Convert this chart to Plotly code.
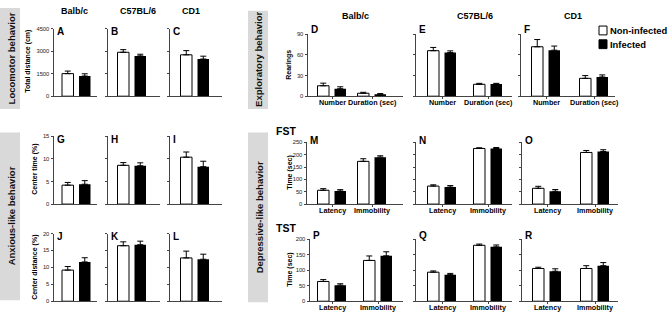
import plotly.graph_objects as go

W, H = 668, 316
FONT = "Liberation Sans"

# ---------------- data ----------------
strains = ["Balb/c", "C57BL/6", "CD1"]
single_cat = ["group"]
explor_cats = ["Number", "Duration (sec)"]
depr_cats = ["Latency", "Immobility"]

# Locomotor: total distance (cm), panels A-C (mean, SEM)
dist_non_mean = [1500, 2920, 2750]
dist_non_sem = [170, 175, 280]
dist_inf_mean = [1340, 2680, 2470]
dist_inf_sem = [150, 110, 190]

# Anxious-like: center time (%), panels G-I
ctime_non_mean = [4.2, 8.6, 10.4]
ctime_non_sem = [0.6, 0.6, 1.15]
ctime_inf_mean = [4.4, 8.5, 8.3]
ctime_inf_sem = [0.8, 0.65, 1.2]

# Anxious-like: center distance (%), panels J-L
cdist_non_mean = [9.2, 16.4, 12.8]
cdist_non_sem = [1.05, 1.15, 2.0]
cdist_inf_mean = [11.6, 16.7, 12.4]
cdist_inf_sem = [1.25, 1.05, 1.5]

# Exploratory: rearings [Number, Duration], panels D-F
rear_non_mean = [[15.2, 4.3], [66.3, 17.3], [72, 26]]
rear_non_sem = [[3.8, 1.4], [4.7, 1.4], [10.5, 4]]
rear_inf_mean = [[10.9, 2.8], [63.5, 17.7], [67, 28]]
rear_inf_sem = [[2.8, 1.0], [2.5, 1.0], [6, 3]]

# FST time (sec) [Latency, Immobility], panels M-O
fst_non_mean = [[56, 173], [73, 225], [64, 209]]
fst_non_sem = [[6.5, 10.5], [5, 3], [8, 8]]
fst_inf_mean = [[53, 190], [69, 225], [52, 213]]
fst_inf_sem = [[5.5, 5.5], [6, 4], [7, 7]]

# TST time (sec) [Latency, Immobility], panels P-R
tst_non_mean = [[64, 132], [94, 181], [106, 106]]
tst_non_sem = [[6, 14.5], [4, 4], [4, 9]]
tst_inf_mean = [[52, 147], [86, 176], [97, 115]]
tst_inf_sem = [[4.5, 13], [4, 6], [8, 10]]

# axis ticks
dist_ticks = [0, 1500, 3000, 4500]
ctime_ticks = [0, 5, 10, 15]
cdist_ticks = [0, 5, 10, 15, 20]
rear_ticks = [0, 30, 60, 90]
fst_ticks = [0, 50, 100, 150, 200, 250]
tst_ticks = [0, 50, 100, 150, 200]

# ---------------- layout geometry (pixels) ----------------
left_cols = [(54, 97, 76.5, None), (108, 160, 132, None), (170, 222, 195, None)]
left_rows = [(26, 95), (136, 205), (235, 304)]
right_cols = [
    [(308, 403, 332, 372), (416, 512, 442, 488), (521, 615, 546, 594)],
    [(307, 403, 332, 372), (416, 512, 442, 488), (522, 618, 547, 595)],
    [(310, 403, 332, 378), (416, 512, 442, 488), (522, 618, 547, 595)],
]
right_rows = [(32, 95), (142, 205), (241, 304)]

AXC = "#444444"
fig = go.Figure()
layout = {}
annotations = []
shapes = []


def px(x):
    return x / W


def py(y):
    return 1 - y / H


def add_panel(n, cats, nm, ns, im, isem, ticks, col, row, show_ylab, show_xlab, letter, letter_pos):
    x0, x1, c0, c1 = col
    yt, yb = row
    u = (c1 - c0) if c1 else 48.0
    xr = [(x0 - c0) / u, (x1 - c0) / u]
    bw = 11.5 / u
    xa = "x" if n == 1 else f"x{n}"
    ya = "y" if n == 1 else f"y{n}"
    eb = dict(type="data", symmetric=False, color="black", thickness=1, width=3)
    fig.add_trace(go.Bar(
        x=cats, y=nm, xaxis=xa, yaxis=ya, width=bw, offset=-14.5 / u,
        marker=dict(color="white", line=dict(color="black", width=1)),
        error_y=dict(eb, array=ns, arrayminus=[0] * len(ns)),
        showlegend=False, hoverinfo="skip"))
    fig.add_trace(go.Bar(
        x=cats, y=im, xaxis=xa, yaxis=ya, width=bw, offset=2.5 / u,
        marker=dict(color="black", line=dict(color="black", width=0)),
        error_y=dict(eb, array=isem, arrayminus=[0] * len(isem)),
        showlegend=False, hoverinfo="skip"))
    kx = "xaxis" if n == 1 else f"xaxis{n}"
    ky = "yaxis" if n == 1 else f"yaxis{n}"
    layout[kx] = dict(
        domain=[px(x0), px(x1)], anchor=ya, type="category", range=xr,
        showline=True, linecolor=AXC, linewidth=1, showgrid=False, zeroline=False,
        ticks="outside" if show_xlab else "", ticklen=2, tickcolor=AXC,
        showticklabels=False, fixedrange=True)
    layout[ky] = dict(
        domain=[py(yb), py(yt)], anchor=xa, range=[0, ticks[-1]],
        tickvals=ticks, ticks="outside", ticklen=2.5, tickcolor=AXC,
        showticklabels=show_ylab, showline=True, linecolor=AXC, linewidth=1,
        showgrid=False, zeroline=False,
        tickfont=dict(family=FONT, size=5.8, color="#222"), fixedrange=True)
    if show_xlab:
        for cat in cats:
            annotations.append(dict(
                text=cat, x=cat, xref=xa, y=py(yb + 6.5), yref="paper",
                xanchor="center", yanchor="middle", showarrow=False, borderpad=0,
                font=dict(family=FONT, size=7.2, color="black", weight="bold")))
    lx, ly = letter_pos
    annotations.append(dict(
        text=letter, x=px(lx), y=py(ly), xref="paper", yref="paper",
        xanchor="left", yanchor="middle", showarrow=False, borderpad=0,
        font=dict(family=FONT, size=10, color="black", weight="bold")))


letters_left = [["A", "B", "C"], ["G", "H", "I"], ["J", "K", "L"]]
left_data = [
    (dist_non_mean, dist_non_sem, dist_inf_mean, dist_inf_sem, dist_ticks),
    (ctime_non_mean, ctime_non_sem, ctime_inf_mean, ctime_inf_sem, ctime_ticks),
    (cdist_non_mean, cdist_non_sem, cdist_inf_mean, cdist_inf_sem, cdist_ticks),
]
n = 1
for r in range(3):
    nm, ns, im, isem, ticks = left_data[r]
    for c in range(3):
        col = left_cols[c]
        row = left_rows[r]
        add_panel(n, single_cat, [nm[c]], [ns[c]], [im[c]], [isem[c]], ticks, col, row,
                  c == 0, False, letters_left[r][c], (col[0] + 2, row[0] + 3))
        n += 1

letters_right = [["D", "E", "F"], ["M", "N", "O"], ["P", "Q", "R"]]
right_data = [
    (explor_cats, rear_non_mean, rear_non_sem, rear_inf_mean, rear_inf_sem, rear_ticks),
    (depr_cats, fst_non_mean, fst_non_sem, fst_inf_mean, fst_inf_sem, fst_ticks),
    (depr_cats, tst_non_mean, tst_non_sem, tst_inf_mean, tst_inf_sem, tst_ticks),
]
letter_y_right = [27, 140, 237]
for r in range(3):
    cats, nm, ns, im, isem, ticks = right_data[r]
    for c in range(3):
        col = right_cols[r][c]
        row = right_rows[r]
        add_panel(n, cats, nm[c], ns[c], im[c], isem[c], ticks, col, row,
                  c == 0, True, letters_right[r][c], (col[0] + 2, letter_y_right[r]))
        n += 1


def text(t, x, y, size, bold=True, angle=0, xanchor="center", color="black"):
    annotations.append(dict(
        text=t, x=px(x), y=py(y), xref="paper", yref="paper", xanchor=xanchor,
        yanchor="middle", showarrow=False, textangle=angle, borderpad=0,
        font=dict(family=FONT, size=size, color=color,
                  weight="bold" if bold else "normal")))


# column titles
for s, x in zip(strains, [74, 138, 191]):
    text(s, x, 8, 9)
for s, x in zip(strains, [355, 475, 573]):
    text(s, x, 13, 9)

# y-axis titles
text("Total distance (cm)", 28, 60, 7, angle=-90)
text("Center time (%)", 35, 170, 7, angle=-90)
text("Center distance (%)", 35, 270, 7, angle=-90)
text("Rearings", 289, 63, 7, angle=-90)
text("Time (sec)", 290, 173, 7, angle=-90)
text("Time (sec)", 290, 272, 7, angle=-90)

# test labels
text("FST", 275, 130, 10.5, xanchor="left")
text("TST", 275, 229, 10.5, xanchor="left")

# grey row-label boxes
boxes = [
    (0, 20, 5, 108, "Locomotor behavior"),
    (0, 20, 132, 303, "Anxious-like behavior"),
    (248, 268, 8, 108, "Exploratory behavior"),
    (248, 268, 132, 305, "Depressive-like behavior"),
]
for bx0, bx1, by0, by1, lab in boxes:
    shapes.append(dict(type="rect", xref="paper", yref="paper",
                       x0=px(bx0), x1=px(bx1), y0=py(by1), y1=py(by0),
                       fillcolor="#d9d9d9", line=dict(width=0), layer="below"))
    text(lab, (bx0 + bx1) / 2 + 1, (by0 + by1) / 2, 9.5, angle=-90, color="#111")

# legend
legend_items = [("Non-infected", "white", 28), ("Infected", "black", 42)]
for lab, colr, yc in legend_items:
    shapes.append(dict(type="rect", xref="paper", yref="paper",
                       x0=px(599), x1=px(607), y0=py(yc + 4.5), y1=py(yc - 4.5),
                       fillcolor=colr, line=dict(color="black", width=1)))
    text(lab, 609, yc, 9.4, xanchor="left")

fig.update_layout(
    width=W, height=H, margin=dict(l=0, r=0, t=0, b=0), autosize=False,
    paper_bgcolor="white", plot_bgcolor="white", barmode="overlay",
    showlegend=False, annotations=annotations, shapes=shapes,
    font=dict(family=FONT), **layout)

fig.write_html("out.html", config={"displayModeBar": False},
               post_script="document.body.style.margin='0px';")
